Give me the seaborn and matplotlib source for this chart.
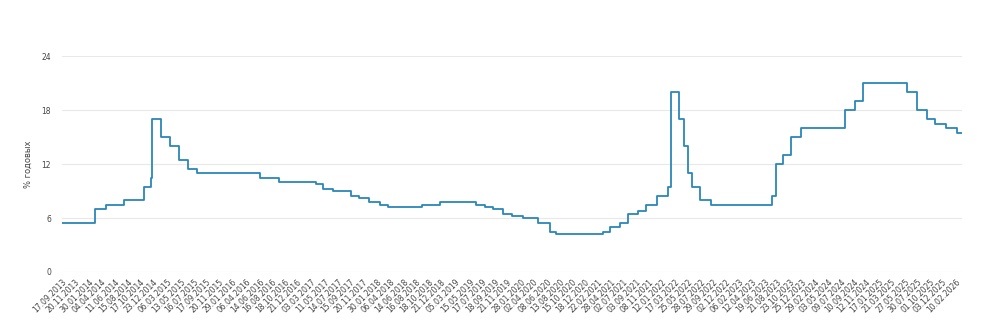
import matplotlib
matplotlib.use("Agg")
import matplotlib.pyplot as plt
import seaborn as sns
import pandas as pd

# Key rate change dates and values (% per year)
change_dates = [
    "17.09.2013", "03.03.2014", "28.04.2014", "28.07.2014", "05.11.2014", "12.12.2014",
    "16.12.2014", "02.02.2015", "16.03.2015", "05.05.2015", "16.06.2015", "03.08.2015",
    "14.06.2016", "19.09.2016", "27.03.2017", "02.05.2017", "19.06.2017", "18.09.2017",
    "30.10.2017", "18.12.2017", "12.02.2018", "26.03.2018", "17.09.2018", "17.12.2018",
    "17.06.2019", "29.07.2019", "09.09.2019", "28.10.2019", "16.12.2019", "10.02.2020",
    "27.04.2020", "22.06.2020", "27.07.2020", "22.03.2021", "26.04.2021", "15.06.2021",
    "26.07.2021", "13.09.2021", "25.10.2021", "20.12.2021", "14.02.2022", "28.02.2022",
    "11.04.2022", "04.05.2022", "27.05.2022", "14.06.2022", "25.07.2022", "19.09.2022",
    "24.07.2023", "15.08.2023", "18.09.2023", "30.10.2023", "18.12.2023", "29.07.2024",
    "16.09.2024", "28.10.2024", "09.06.2025", "28.07.2025", "15.09.2025", "27.10.2025",
    "22.12.2025", "16.02.2026", "13.03.2026",
]
rate_values = [
    5.5, 7.0, 7.5, 8.0, 9.5, 10.5,
    17.0, 15.0, 14.0, 12.5, 11.5, 11.0,
    10.5, 10.0, 9.75, 9.25, 9.0, 8.5,
    8.25, 7.75, 7.5, 7.25, 7.5, 7.75,
    7.5, 7.25, 7.0, 6.5, 6.25, 6.0,
    5.5, 4.5, 4.25, 4.5, 5.0, 5.5,
    6.5, 6.75, 7.5, 8.5, 9.5, 20.0,
    17.0, 14.0, 11.0, 9.5, 8.0, 7.5,
    8.5, 12.0, 13.0, 15.0, 16.0, 18.0,
    19.0, 21.0, 20.0, 18.0, 17.0, 16.5,
    16.0, 15.5, 15.5,
]

tick_labels = [
    "17.09.2013", "20.11.2013", "30.01.2014", "04.04.2014", "11.06.2014", "15.08.2014",
    "17.10.2014", "23.12.2014", "06.03.2015", "13.05.2015", "16.07.2015", "17.09.2015",
    "20.11.2015", "29.01.2016", "06.04.2016", "14.06.2016", "16.08.2016", "18.10.2016",
    "21.12.2016", "03.03.2017", "11.05.2017", "14.07.2017", "15.09.2017", "20.11.2017",
    "30.01.2018", "06.04.2018", "14.06.2018", "16.08.2018", "18.10.2018", "21.12.2018",
    "05.03.2019", "15.05.2019", "17.07.2019", "18.09.2019", "21.11.2019", "28.01.2020",
    "02.04.2020", "08.06.2020", "13.08.2020", "15.10.2020", "18.12.2020", "22.02.2021",
    "28.04.2021", "02.07.2021", "03.09.2021", "08.11.2021", "12.01.2022", "17.03.2022",
    "25.05.2022", "28.07.2022", "29.09.2022", "02.12.2022", "06.02.2023", "12.04.2023",
    "19.06.2023", "21.08.2023", "23.10.2023", "25.12.2023", "29.02.2024", "03.05.2024",
    "09.07.2024", "10.09.2024", "12.11.2024", "17.01.2025", "21.03.2025", "27.05.2025",
    "30.07.2025", "01.10.2025", "03.12.2025", "10.02.2026",
]
y_ticks = [0, 6, 12, 18, 24]
y_label = "% годовых"

df = pd.DataFrame({
    "date": pd.to_datetime(change_dates, format="%d.%m.%Y"),
    "rate": rate_values,
})

sns.set_theme(style="white")
plt.rcParams["font.family"] = ["DejaVu Sans"]

fig = plt.figure(figsize=(10, 3.24), dpi=100)
ax = fig.add_axes([0.062, 0.1605, 0.900, 0.6665])

ax.yaxis.grid(True, color="#e8e8e8", linewidth=0.8)
ax.set_axisbelow(True)

sns.lineplot(data=df, x="date", y="rate", ax=ax, drawstyle="steps-post",
             color="#2b87b7", linewidth=1.3)

ax.set_xlim(df["date"].iloc[0], df["date"].iloc[-1])
ax.set_ylim(0, 24)
ax.set_yticks(y_ticks)
ax.set_yticklabels([str(v) for v in y_ticks], fontsize=5.5, color="#444444")

tick_dates = pd.to_datetime(tick_labels, format="%d.%m.%Y")
ax.set_xticks(tick_dates)
ax.set_xticklabels(tick_labels, rotation=45, ha="right", rotation_mode="anchor",
                   fontsize=5.5, color="#444444")
ax.tick_params(axis="y", length=0, pad=8)
ax.tick_params(axis="x", length=0, pad=4)

ax.set_xlabel("")
ax.set_ylabel(y_label, fontsize=6, color="#444444", labelpad=6)

for s in ax.spines.values():
    s.set_visible(False)

fig.savefig("out.png", dpi=100, facecolor="white")
